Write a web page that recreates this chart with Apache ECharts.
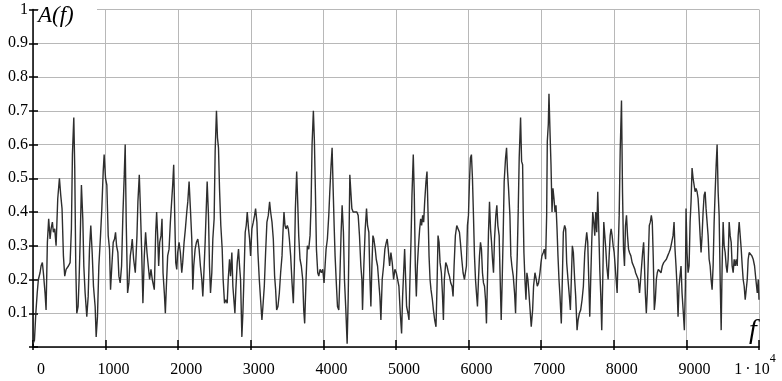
<!DOCTYPE html>
<html>
<head>
<meta charset="utf-8">
<script src="https://cdn.jsdelivr.net/npm/echarts@6/dist/echarts.min.js"></script>
<style>
html,body{margin:0;padding:0;background:#fff;}
#chart{width:782px;height:381px;}
</style>
</head>
<body>
<div id="chart"></div>
<script>
// Spectrum A(f): [f, A] pairs, split by region
var seg1 = [[0,0.01],[20,0.02],[39,0.10],[58,0.16],[74,0.20],[97,0.22],[111,0.24],[129,0.25],[143,0.22],[166,0.16],[180,0.11],[198,0.31],[216,0.38],[235,0.32],[249,0.35],[267,0.37],[281,0.34],[299,0.35],[318,0.30],[341,0.44],[364,0.50],[382,0.45],[400,0.41],[419,0.27],[437,0.21],[456,0.23],[488,0.24],[511,0.25],[529,0.35],[543,0.57],[562,0.68],[575,0.53],[589,0.24],[603,0.10],[621,0.12],[635,0.20],[649,0.31],[667,0.48],[686,0.38],[700,0.24],[718,0.16],[741,0.09],[760,0.15],[778,0.29],[796,0.36],[815,0.28],[833,0.18],[856,0.12],[870,0.03],[888,0.09],[907,0.24],[930,0.33],[948,0.41],[967,0.52],[980,0.57],[999,0.50],[1017,0.48],[1036,0.33],[1054,0.29],[1068,0.17],[1086,0.24],[1105,0.31],[1123,0.32],[1137,0.34],[1151,0.30],[1169,0.28],[1183,0.21],[1201,0.19],[1220,0.24],[1238,0.39],[1257,0.51],[1270,0.60],[1284,0.37],[1303,0.16],[1321,0.19],[1340,0.27],[1353,0.29],[1367,0.32],[1386,0.26],[1409,0.22],[1432,0.33],[1445,0.43],[1464,0.51],[1478,0.42],[1496,0.29],[1514,0.13],[1533,0.27],[1551,0.34],[1570,0.28],[1588,0.24],[1606,0.20],[1625,0.23],[1643,0.20]];
var seg2 = [[1653,0.20],[1671,0.17],[1690,0.34],[1703,0.40],[1717,0.33],[1731,0.24],[1745,0.31],[1763,0.33],[1777,0.38],[1791,0.22],[1809,0.16],[1823,0.10],[1837,0.18],[1855,0.27],[1874,0.29],[1892,0.37],[1911,0.37],[1924,0.48],[1938,0.54],[1952,0.39],[1966,0.25],[1980,0.23],[1993,0.28],[2012,0.31],[2030,0.28],[2049,0.22],[2062,0.25],[2081,0.31],[2099,0.35],[2118,0.40],[2132,0.43],[2150,0.49],[2168,0.41],[2187,0.32],[2201,0.17],[2214,0.24],[2233,0.29],[2251,0.31],[2270,0.32],[2288,0.29],[2306,0.24],[2325,0.20],[2339,0.15],[2352,0.21],[2371,0.31],[2385,0.40],[2399,0.49],[2417,0.39],[2431,0.24],[2445,0.16],[2463,0.22],[2477,0.32],[2495,0.38],[2509,0.58],[2527,0.70],[2541,0.62],[2555,0.59],[2569,0.47],[2587,0.36],[2606,0.29],[2619,0.20],[2638,0.13],[2656,0.14],[2675,0.13],[2689,0.20],[2707,0.26],[2721,0.21],[2739,0.28],[2753,0.18],[2767,0.14],[2781,0.10],[2794,0.17],[2813,0.25],[2831,0.29],[2845,0.24],[2859,0.20],[2877,0.03],[2891,0.10],[2905,0.20],[2923,0.34],[2937,0.36],[2951,0.40],[2969,0.35],[2983,0.32],[2997,0.27],[3015,0.35],[3034,0.37],[3052,0.39],[3066,0.41],[3084,0.37],[3098,0.28],[3117,0.20],[3135,0.14],[3153,0.08],[3167,0.12],[3186,0.18],[3204,0.28],[3222,0.37],[3241,0.39],[3259,0.43],[3273,0.40],[3292,0.37],[3310,0.32]];
var seg3 = [[3328,0.21],[3342,0.17],[3356,0.11],[3374,0.12],[3393,0.16],[3411,0.22],[3430,0.27],[3443,0.34],[3457,0.40],[3471,0.36],[3485,0.35],[3503,0.36],[3517,0.35],[3531,0.32],[3549,0.27],[3568,0.19],[3586,0.13],[3600,0.24],[3614,0.41],[3632,0.52],[3646,0.43],[3660,0.33],[3678,0.26],[3696,0.24],[3715,0.20],[3729,0.11],[3742,0.07],[3761,0.20],[3779,0.30],[3798,0.29],[3816,0.33],[3830,0.42],[3844,0.60],[3862,0.70],[3876,0.61],[3890,0.46],[3904,0.29],[3922,0.22],[3936,0.21],[3954,0.23],[3973,0.22],[3991,0.23],[4009,0.19],[4023,0.24],[4037,0.29],[4055,0.32],[4074,0.39],[4088,0.46],[4106,0.54],[4120,0.59],[4134,0.47],[4148,0.36],[4161,0.27],[4180,0.18],[4194,0.12],[4212,0.11],[4226,0.20],[4244,0.34],[4258,0.42],[4276,0.34],[4290,0.20],[4309,0.11],[4327,0.01],[4341,0.14],[4350,0.27],[4364,0.51],[4378,0.46],[4392,0.41],[4410,0.40],[4433,0.40],[4461,0.40],[4479,0.39],[4497,0.33],[4516,0.24],[4530,0.20],[4539,0.11],[4557,0.24],[4576,0.35],[4594,0.41],[4608,0.36],[4626,0.34],[4640,0.21],[4654,0.12],[4668,0.24],[4682,0.33],[4695,0.32],[4714,0.29],[4728,0.26],[4746,0.24],[4760,0.20],[4778,0.15],[4792,0.08],[4810,0.20],[4829,0.24],[4847,0.29],[4866,0.31],[4879,0.32],[4893,0.29],[4912,0.24],[4930,0.28],[4948,0.25],[4967,0.20]];
var seg4 = [[4985,0.23],[5004,0.22],[5022,0.22],[5040,0.18],[5059,0.10],[5077,0.04],[5091,0.15],[5105,0.22],[5119,0.29],[5133,0.20],[5146,0.12],[5165,0.10],[5179,0.08],[5192,0.20],[5206,0.31],[5220,0.45],[5238,0.57],[5252,0.45],[5266,0.24],[5280,0.15],[5294,0.24],[5307,0.29],[5326,0.35],[5340,0.38],[5353,0.36],[5367,0.39],[5381,0.37],[5395,0.43],[5413,0.49],[5427,0.52],[5441,0.40],[5455,0.27],[5469,0.20],[5482,0.17],[5501,0.14],[5515,0.11],[5533,0.08],[5551,0.06],[5565,0.18],[5579,0.33],[5593,0.31],[5607,0.25],[5625,0.22],[5639,0.16],[5653,0.08],[5666,0.20],[5685,0.25],[5703,0.24],[5722,0.22],[5736,0.21],[5754,0.19],[5772,0.18],[5786,0.15],[5800,0.24],[5818,0.33],[5837,0.36],[5855,0.35],[5874,0.34],[5887,0.31],[5906,0.26],[5924,0.22],[5943,0.20],[5956,0.22],[5970,0.24],[5984,0.36],[5998,0.39],[6012,0.49],[6025,0.56],[6039,0.57],[6053,0.50],[6067,0.39],[6081,0.27],[6095,0.20],[6108,0.16],[6122,0.12],[6136,0.20],[6150,0.27],[6164,0.31],[6177,0.29],[6191,0.22],[6205,0.19],[6219,0.18],[6233,0.14],[6246,0.07],[6260,0.20],[6274,0.34],[6288,0.43],[6302,0.35],[6316,0.31],[6329,0.26],[6343,0.22],[6357,0.32],[6375,0.39],[6389,0.42],[6403,0.36],[6421,0.33],[6435,0.20],[6449,0.08],[6463,0.20],[6477,0.34],[6490,0.49],[6509,0.56],[6523,0.59],[6536,0.52],[6550,0.47],[6569,0.39],[6582,0.27],[6596,0.24],[6615,0.21],[6633,0.16],[6647,0.10]];
var seg5 = [[6656,0.18],[6670,0.27],[6684,0.41],[6697,0.56],[6716,0.68],[6730,0.55],[6744,0.54],[6753,0.39],[6762,0.28],[6776,0.20],[6790,0.14],[6803,0.22],[6817,0.20],[6831,0.16],[6849,0.16],[6863,0.06],[6882,0.11],[6895,0.18],[6914,0.22],[6932,0.20],[6946,0.18],[6964,0.19],[6983,0.22],[6997,0.25],[7010,0.27],[7029,0.28],[7043,0.29],[7061,0.26],[7075,0.39],[7084,0.61],[7098,0.66],[7107,0.75],[7121,0.64],[7135,0.54],[7149,0.40],[7162,0.47],[7176,0.44],[7190,0.40],[7204,0.42],[7218,0.35],[7231,0.27],[7245,0.20],[7259,0.15],[7277,0.07],[7291,0.20],[7305,0.34],[7323,0.36],[7337,0.35],[7351,0.25],[7369,0.20],[7388,0.15],[7402,0.11],[7415,0.20],[7429,0.30],[7443,0.28],[7461,0.20],[7475,0.15],[7494,0.05],[7508,0.08],[7526,0.10],[7544,0.11],[7563,0.14],[7581,0.18],[7600,0.28],[7613,0.31],[7627,0.34],[7641,0.31],[7655,0.20],[7669,0.09],[7682,0.20],[7696,0.31],[7710,0.40],[7724,0.37],[7738,0.33],[7751,0.40],[7765,0.34],[7779,0.46],[7793,0.35],[7807,0.23],[7821,0.15],[7834,0.05],[7848,0.20],[7862,0.37],[7876,0.33],[7890,0.29],[7903,0.24],[7922,0.20],[7936,0.27],[7950,0.33],[7963,0.35],[7977,0.33],[7991,0.30],[8005,0.28],[8019,0.24],[8032,0.20],[8046,0.16],[8060,0.28],[8074,0.39],[8088,0.58],[8106,0.73],[8120,0.46],[8134,0.29],[8147,0.24],[8161,0.36],[8175,0.39],[8189,0.33],[8203,0.29],[8216,0.28],[8235,0.27],[8253,0.25],[8272,0.24],[8290,0.23]];
var seg6 = [[8300,0.22],[8319,0.22],[8337,0.20],[8355,0.16],[8369,0.20],[8383,0.24],[8397,0.28],[8411,0.31],[8420,0.26],[8434,0.16],[8448,0.10],[8461,0.16],[8475,0.26],[8489,0.36],[8503,0.37],[8517,0.39],[8530,0.37],[8544,0.26],[8558,0.11],[8572,0.14],[8586,0.20],[8599,0.22],[8613,0.23],[8632,0.23],[8650,0.22],[8668,0.24],[8687,0.25],[8705,0.25],[8724,0.26],[8742,0.27],[8761,0.28],[8779,0.29],[8797,0.29],[8816,0.33],[8830,0.37],[8843,0.29],[8857,0.24],[8871,0.18],[8885,0.09],[8899,0.18],[8912,0.21],[8926,0.24],[8940,0.16],[8958,0.10],[8972,0.05],[8986,0.18],[8995,0.41],[9009,0.28],[9023,0.22],[9037,0.24],[9051,0.37],[9064,0.43],[9078,0.53],[9092,0.50],[9106,0.48],[9120,0.46],[9133,0.47],[9147,0.46],[9161,0.44],[9175,0.39],[9189,0.33],[9202,0.28],[9216,0.33],[9230,0.40],[9244,0.45],[9258,0.46],[9271,0.41],[9285,0.37],[9299,0.33],[9313,0.26],[9327,0.24],[9340,0.20],[9354,0.17],[9368,0.24],[9382,0.37],[9396,0.46],[9410,0.54],[9423,0.60],[9437,0.46],[9451,0.39],[9465,0.20],[9479,0.05],[9492,0.24],[9506,0.37],[9520,0.30],[9534,0.28],[9548,0.24],[9561,0.22],[9575,0.26],[9589,0.37],[9603,0.33],[9617,0.31],[9630,0.24],[9644,0.22],[9658,0.26],[9672,0.24],[9686,0.26],[9700,0.24],[9713,0.33],[9727,0.37],[9741,0.33],[9755,0.29],[9769,0.24],[9782,0.20],[9796,0.18],[9810,0.14],[9824,0.14],[9838,0.20],[9851,0.26],[9865,0.28],[9884,0.28],[9902,0.27],[9920,0.26],[9939,0.24],[9957,0.20],[9976,0.16],[9990,0.20],[10000,0.14]];

var xMin = 0, xMax = 10000, xStep = 1000;
var yMin = 0, yMax = 1, yStep = 0.1;
var xLastLabel = '1\u2009·\u200910';
var xLastExp = '4';
var yName = 'A(f)';
var xName = 'f';

var spectrum = seg1.concat(seg2, seg3, seg4, seg5, seg6);

var FONT = 'Liberation Serif';
var chart = echarts.init(document.getElementById('chart'), null, {renderer: 'canvas'});

var gridColor = '#b8b8b8';

var option = {
  animation: false,
  backgroundColor: '#ffffff',
  grid: {left: 33, right: 23, top: 9.5, bottom: 34, containLabel: false, outerBoundsMode: 'none'},
  xAxis: [{
    type: 'value', min: xMin, max: xMax, interval: xStep, position: 'bottom',
    axisLine: {show: true, onZero: false, lineStyle: {color: '#000', width: 1.5}},
    axisTick: {show: true, inside: false, length: 3, lineStyle: {color: '#000', width: 1.5}},
    axisLabel: {
      show: true, color: '#000', fontFamily: FONT, fontSize: 16, margin: 6,
      padding: [0, 0, 0, 16], showMinLabel: true, showMaxLabel: true,
      formatter: function (v) {
        if (v === xMax) return '{b|' + xLastLabel + '}{s|' + xLastExp + '}';
        return '{b|' + v + '}';
      },
      rich: {
        b: {fontFamily: FONT, fontSize: 16, color: '#000', verticalAlign: 'top', padding: [9, 0, 0, 0]},
        s: {fontFamily: FONT, fontSize: 12, lineHeight: 12, color: '#000', verticalAlign: 'top', padding: [0, 24, 0, 0]}
      }
    },
    splitLine: {show: true, lineStyle: {color: gridColor, width: 1}}
  }, {
    type: 'value', min: xMin, max: xMax, interval: xStep, position: 'bottom',
    axisLine: {show: false, onZero: false},
    axisTick: {show: true, inside: true, length: 7, lineStyle: {color: '#000', width: 1.5}},
    axisLabel: {show: false},
    splitLine: {show: false}
  }],
  yAxis: [{
    type: 'value', min: yMin, max: yMax, interval: yStep, position: 'left',
    axisLine: {show: true, onZero: false, lineStyle: {color: '#000', width: 1.5}},
    axisTick: {show: true, inside: false, length: 4, lineStyle: {color: '#000', width: 1.5}},
    axisLabel: {
      show: true, color: '#000', fontFamily: FONT, fontSize: 16, margin: 5,
      showMinLabel: true, showMaxLabel: true,
      formatter: function (v) {
        if (Math.abs(v) < 1e-9) return '';
        if (Math.abs(v - 1) < 1e-9) return '1';
        return v.toFixed(1);
      }
    },
    splitLine: {show: true, lineStyle: {color: gridColor, width: 1}}
  }, {
    type: 'value', min: yMin, max: yMax, interval: yStep, position: 'left',
    axisLine: {show: false, onZero: false},
    axisTick: {show: true, inside: true, length: 5, lineStyle: {color: '#000', width: 1.5}},
    axisLabel: {show: false},
    splitLine: {show: false}
  }],
  series: [{
    type: 'line',
    xAxisIndex: 0, yAxisIndex: 0,
    data: spectrum,
    showSymbol: false,
    symbol: 'none',
    lineStyle: {color: '#2e2e2e', width: 1.4},
    z: 3
  }],
  graphic: [{
    type: 'rect', left: 39, top: 3, z: 10,
    shape: {width: 58, height: 30},
    style: {fill: '#ffffff'}
  }, {
    type: 'text', left: 38, top: 4, z: 11,
    style: {text: yName, font: 'italic 23px "Liberation Serif"', fill: '#000'}
  }, {
    type: 'text', left: 749, top: 317, z: 11,
    style: {text: xName, font: 'italic 28px "Liberation Serif"', fill: '#000', backgroundColor: '#fff'}
  }]
};
chart.setOption(option);
</script>
</body>
</html>
